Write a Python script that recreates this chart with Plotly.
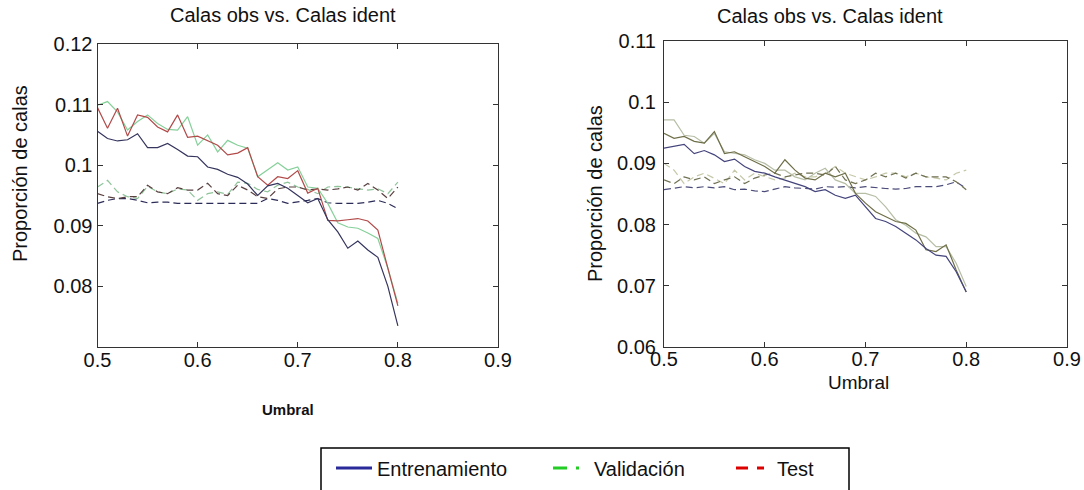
import plotly.graph_objects as go

W, H = 1084, 490

# ---------------- data ----------------
umbral = [round(0.50 + 0.01 * i, 2) for i in range(31)]

# Left panel
izq_entr_obs = [0.1056, 0.1044, 0.1040, 0.1042, 0.1052, 0.1029, 0.1029, 0.1036, 0.1026, 0.1015, 0.1014,
                0.0997, 0.0993, 0.0985, 0.0980, 0.0969, 0.0950, 0.0966, 0.0970, 0.0962, 0.0950,
                0.0938, 0.0945, 0.0910, 0.0890, 0.0863, 0.0875, 0.0860, 0.0848, 0.0800, 0.0735]
izq_val_obs = [0.1099, 0.1105, 0.1088, 0.1058, 0.1072, 0.1083, 0.1069, 0.1059, 0.1058, 0.1080, 0.1033,
               0.1050, 0.1022, 0.1041, 0.1033, 0.1028, 0.0981, 0.0992, 0.1004, 0.0992, 0.0997,
               0.0964, 0.0962, 0.0937, 0.0905, 0.0898, 0.0896, 0.0888, 0.0879, 0.0830, 0.0772]
izq_test_obs = [0.1095, 0.1061, 0.1094, 0.1048, 0.1083, 0.1079, 0.1063, 0.1055, 0.1083, 0.1046, 0.1048,
                0.1041, 0.1033, 0.1017, 0.1020, 0.1029, 0.0981, 0.0967, 0.0981, 0.0978, 0.0991,
                0.0954, 0.0962, 0.0909, 0.0908, 0.0910, 0.0912, 0.0908, 0.0893, 0.0830, 0.0768]
izq_entr_id = [0.0937, 0.0942, 0.0945, 0.0945, 0.0942, 0.0938, 0.0939, 0.0939, 0.0937, 0.0937, 0.0937,
               0.0937, 0.0936, 0.0937, 0.0936, 0.0936, 0.0937, 0.0945, 0.0942, 0.0937, 0.0939,
               0.0942, 0.0945, 0.0938, 0.0937, 0.0937, 0.0937, 0.0939, 0.0942, 0.0937, 0.0928]
izq_val_id = [0.0964, 0.0975, 0.0956, 0.0948, 0.0945, 0.0965, 0.0956, 0.0953, 0.0961, 0.0959, 0.0942,
              0.0953, 0.0956, 0.0952, 0.0972, 0.0970, 0.0960, 0.0956, 0.0967, 0.0972, 0.0964,
              0.0960, 0.0953, 0.0964, 0.0965, 0.0964, 0.0961, 0.0959, 0.0961, 0.0953, 0.0972]
izq_test_id = [0.0953, 0.0948, 0.0945, 0.0948, 0.0948, 0.0967, 0.0956, 0.0953, 0.0963, 0.0959, 0.0959,
               0.0970, 0.0953, 0.0950, 0.0967, 0.0959, 0.0948, 0.0945, 0.0961, 0.0964, 0.0964,
               0.0959, 0.0961, 0.0959, 0.0961, 0.0964, 0.0959, 0.0970, 0.0959, 0.0945, 0.0964]

# Right panel
der_entr_obs = [0.0925, 0.0928, 0.0931, 0.0916, 0.0921, 0.0914, 0.0903, 0.0907, 0.0895, 0.0887, 0.0884,
                0.0878, 0.0873, 0.0867, 0.0862, 0.0854, 0.0857, 0.0848, 0.0843, 0.0848, 0.0829,
                0.0810, 0.0805, 0.0797, 0.0786, 0.0775, 0.0761, 0.0750, 0.0748, 0.0723, 0.0690]
der_val_obs = [0.0971, 0.0971, 0.0946, 0.0944, 0.0933, 0.0949, 0.0919, 0.0916, 0.0914, 0.0906, 0.0900,
               0.0889, 0.0889, 0.0878, 0.0873, 0.0884, 0.0892, 0.0873, 0.0867, 0.0851, 0.0851,
               0.0846, 0.0829, 0.0808, 0.0799, 0.0786, 0.0780, 0.0764, 0.0764, 0.0737, 0.0699]
der_test_obs = [0.0949, 0.0941, 0.0944, 0.0936, 0.0933, 0.0952, 0.0916, 0.0919, 0.0911, 0.0903, 0.0895,
                0.0884, 0.0906, 0.0889, 0.0876, 0.0873, 0.0884, 0.0878, 0.0884, 0.0851, 0.0835,
                0.0821, 0.0813, 0.0805, 0.0802, 0.0791, 0.0759, 0.0756, 0.0767, 0.0726, 0.0690]
der_entr_id = [0.0857, 0.0859, 0.0862, 0.0860, 0.0862, 0.0860, 0.0862, 0.0857, 0.0858, 0.0855, 0.0854,
               0.0858, 0.0862, 0.0860, 0.0859, 0.0858, 0.0862, 0.0861, 0.0862, 0.0860, 0.0862,
               0.0860, 0.0859, 0.0858, 0.0859, 0.0862, 0.0862, 0.0862, 0.0865, 0.0870, 0.0859]
der_val_id = [0.0900, 0.0889, 0.0867, 0.0878, 0.0884, 0.0876, 0.0867, 0.0889, 0.0873, 0.0884, 0.0878,
              0.0873, 0.0876, 0.0884, 0.0878, 0.0878, 0.0884, 0.0895, 0.0884, 0.0878, 0.0873,
              0.0878, 0.0884, 0.0884, 0.0878, 0.0884, 0.0878, 0.0876, 0.0873, 0.0884, 0.0889]
der_test_id = [0.0873, 0.0867, 0.0878, 0.0873, 0.0878, 0.0867, 0.0873, 0.0878, 0.0867, 0.0876, 0.0881,
               0.0884, 0.0878, 0.0881, 0.0884, 0.0884, 0.0881, 0.0895, 0.0873, 0.0867, 0.0873,
               0.0884, 0.0878, 0.0884, 0.0876, 0.0884, 0.0878, 0.0878, 0.0878, 0.0870, 0.0857]

x_ticks = [0.5, 0.6, 0.7, 0.8, 0.9]
x_ticktext = ["0.5", "0.6", "0.7", "0.8", "0.9"]
y_ticks_izq = [0.08, 0.09, 0.10, 0.11, 0.12]
y_ticktext_izq = ["0.08", "0.09", "0.1", "0.11", "0.12"]
y_ticks_der = [0.06, 0.07, 0.08, 0.09, 0.10, 0.11]
y_ticktext_der = ["0.06", "0.07", "0.08", "0.09", "0.1", "0.11"]

titulo = "Calas obs vs. Calas ident"
ytitulo = "Proporción de calas"
xtitulo = "Umbral"
nombres = ["Entrenamiento", "Validación", "Test"]

# ---------------- figure ----------------
FONT = "Liberation Sans, Arial, sans-serif"


def px_x(p):
    return p / W


def px_y(p):
    return (H - p) / H


fig = go.Figure()


def add(x, y, xa, ya, color, dash="solid", width=1.2):
    fig.add_trace(go.Scatter(x=x, y=y, mode="lines", xaxis=xa, yaxis=ya,
                             line=dict(color=color, width=width, dash=dash),
                             showlegend=False, hoverinfo="skip"))


DASH = "7px,4px"
# left panel
add(umbral, izq_entr_id, "x", "y", "#2c2c58", DASH)
add(umbral, izq_val_id, "x", "y", "#8fc49a", DASH)
add(umbral, izq_test_id, "x", "y", "#5a4040", DASH)
add(umbral, izq_val_obs, "x", "y", "#86d09a")
add(umbral, izq_test_obs, "x", "y", "#b24a4a")
add(umbral, izq_entr_obs, "x", "y", "#35355e")
# right panel
add(umbral, der_entr_id, "x2", "y2", "#4c4c7a", DASH)
add(umbral, der_val_id, "x2", "y2", "#c6c8a8", DASH)
add(umbral, der_test_id, "x2", "y2", "#707052", DASH)
add(umbral, der_val_obs, "x2", "y2", "#b6bea6")
add(umbral, der_test_obs, "x2", "y2", "#6e6e48")
add(umbral, der_entr_obs, "x2", "y2", "#44447c")

# legend-only entries
leg_styles = [("#2a2a9a", "solid", "legend"),
              ("#22cc22", "14px,9px,3px,20px", "legend2"),
              ("#dd0000", "12px,9px,7px,20px", "legend3")]
for name, (col, dsh, lg) in zip(nombres, leg_styles):
    fig.add_trace(go.Scatter(x=[None], y=[None], mode="lines", name=name,
                             line=dict(color=col, width=3, dash=dsh),
                             legend=lg, showlegend=True))

axis_common = dict(showline=True, linecolor="#333333", linewidth=1, mirror="ticks",
                   ticks="inside", ticklen=5, tickcolor="#333333", showgrid=False,
                   zeroline=False, automargin=False,
                   tickfont=dict(family=FONT, size=20, color="#111111"))

L_dom_x = [px_x(97.5), px_x(498)]
L_dom_y = [px_y(347), px_y(44)]
R_dom_x = [px_x(664), px_x(1067)]
R_dom_y = [px_y(347), px_y(41)]

leg_common = dict(orientation="h", xanchor="left", yanchor="middle", y=px_y(468),
                  bgcolor="rgba(0,0,0,0)", borderwidth=0, itemwidth=36,
                  font=dict(family=FONT, size=20, color="#111111"))

ann_font = dict(family=FONT, size=20, color="#111111")

fig.update_layout(
    width=W, height=H, autosize=False,
    margin=dict(l=0, r=0, t=0, b=0),
    paper_bgcolor="white", plot_bgcolor="white",
    xaxis=dict(domain=L_dom_x, anchor="y", range=[0.5, 0.9], tickvals=x_ticks,
               ticktext=x_ticktext, ticklabelstandoff=-5, **axis_common),
    yaxis=dict(domain=L_dom_y, anchor="x", range=[0.07, 0.12], tickvals=y_ticks_izq,
               ticktext=y_ticktext_izq, **axis_common),
    xaxis2=dict(domain=R_dom_x, anchor="y2", range=[0.5, 0.9], tickvals=x_ticks,
                ticktext=x_ticktext, ticklabelstandoff=-6, **axis_common),
    yaxis2=dict(domain=R_dom_y, anchor="x2", range=[0.06, 0.11], tickvals=y_ticks_der,
                ticktext=y_ticktext_der, ticklabelstandoff=3, **axis_common),
    legend=dict(x=px_x(331), **leg_common),
    legend2=dict(x=px_x(548), **leg_common),
    legend3=dict(x=px_x(731), **leg_common),
    shapes=[dict(type="rect", xref="paper", yref="paper",
                 x0=px_x(321), x1=px_x(849), y0=px_y(504), y1=px_y(448),
                 line=dict(color="#000000", width=1.5), fillcolor="rgba(0,0,0,0)")],
    annotations=[
        dict(text=titulo, x=px_x(283), y=px_y(15), xref="paper", yref="paper",
             xanchor="center", yanchor="middle", showarrow=False, font=ann_font),
        dict(text=titulo, x=px_x(830), y=px_y(16), xref="paper", yref="paper",
             xanchor="center", yanchor="middle", showarrow=False, font=ann_font),
        dict(text=ytitulo, x=px_x(20), y=px_y(174), xref="paper", yref="paper",
             xanchor="center", yanchor="middle",
             textangle=-90, showarrow=False, font=ann_font),
        dict(text=ytitulo, x=px_x(595), y=px_y(194), xref="paper", yref="paper",
             xanchor="center", yanchor="middle",
             textangle=-90, showarrow=False, font=ann_font),
        dict(text="<b>" + xtitulo + "</b>", x=px_x(288), y=px_y(409), xref="paper", yref="paper",
             xanchor="center", yanchor="middle",
             showarrow=False, font=dict(family=FONT, size=15, color="#111111")),
        dict(text=xtitulo, x=px_x(858), y=px_y(382), xref="paper", yref="paper",
             xanchor="center", yanchor="middle",
             showarrow=False, font=dict(family=FONT, size=19, color="#111111")),
    ],
)

fig.write_html("out.html",
               config={"displayModeBar": False},
               post_script="document.body.style.margin='0px';"
                           "document.body.style.overflow='hidden';")
